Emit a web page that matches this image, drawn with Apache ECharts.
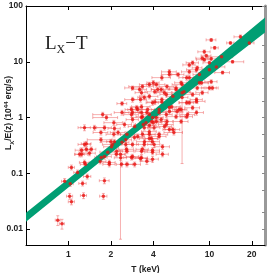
<!DOCTYPE html>
<html><head><meta charset="utf-8">
<script src="https://cdn.jsdelivr.net/npm/echarts@6/dist/echarts.min.js"></script>
<style>html,body{margin:0;padding:0;background:#fff}#c{width:274px;height:273px}</style>
</head><body><div id="c"></div>
<script>
// axis ticks
const xTicks = [1, 2, 4, 10, 20];
const yTicks = [0.01, 0.1, 1, 10, 100];
const yMinorTicks = [0.01, 0.02, 0.05, 0.1, 0.2, 0.5, 1, 2, 5, 10, 20, 50, 100];

// clusters: [T (keV), Lx/E(z) (1e44 erg/s), fractional T error, fractional L error]
const upperRight = [
  [10.3,24.7,0.08,0.06],[16.6,28,0.1,0.08],[19.2,21.8,0.08,0.06],[14.1,21.8,0.06,0.05],
  [10.9,17.8,0.06,0.06],[9.2,15.1,0.1,0.08],[9.5,12.8,0.08,0.06],[12.2,12.3,0.2,0.05],
  [10.3,11.3,0.12,0.06],[8.9,11.6,0.1,0.08],[14.6,10,0.2,0.05],[7.6,9.6,0.1,0.08],
  [11.2,8.1,0.15,0.06],[8.2,7.8,0.08,0.08],[10,7.2,0.1,0.06],[7.2,6.6,0.12,0.08],
  [12.4,6.4,0.12,0.06],[8.5,5.9,0.1,0.08],[6.9,5.2,0.12,0.1],[10.3,4.4,0.1,0.08],
  [8.8,4.2,0.12,0.08],[10.5,3.4,0.1,0.08],[6.4,3.9,0.15,0.1],[10.0,9.6,0.1,0.06],
  [7.2,8.8,0.1,0.08],[8.1,2.1,0.1,0.08],[9.2,10.9,0.12,0.06],[8.1,7.2,0.15,0.08],
  [8.5,4.2,0.15,0.08],[10,3.4,0.12,0.08],[7.2,1.85,0.15,0.08],[7.0,1.13,0.12,0.1]
];
const middle = [
  [5.2,6.6,0.12,0.1],[4.6,5.2,0.15,0.1],[6.3,4.2,0.1,0.08],[7.2,5.2,0.1,0.1],
  [8.2,3.4,0.12,0.08],[4.2,3.9,0.15,0.1],[5.0,3.6,0.12,0.08],[5.8,3.4,0.1,0.1],
  [6.6,2.9,0.1,0.08],[7.6,2.6,0.12,0.08],[8.9,2.8,0.1,0.08],[4.8,2.8,0.12,0.1],
  [4.1,2.9,0.15,0.08],[5.5,2.4,0.1,0.08],[4.6,1.9,0.1,0.1],[6.9,1.85,0.12,0.08],
  [8.1,1.95,0.15,0.08],[4.1,1.9,0.12,0.1],[5.4,1.57,0.15,0.08],[6.3,1.39,0.1,0.1],
  [7.6,1.5,0.12,0.08],[4.4,1.39,0.12,0.1],[4.95,1.13,0.1,0.1],[5.8,1.04,0.15,0.08],
  [6.9,1.04,0.1,0.08],[4.2,1.0,0.12,0.1],[5.0,0.85,0.1,0.1],[6.3,0.85,0.12,0.08],
  [3.9,0.85,0.12,0.1],[6.0,5.9,0.1,0.08],[4.55,3.2,0.15,0.08],[4.0,4.2,0.1,0.1],
  [3.75,2.4,0.15,0.1],[3.2,3.2,0.12,0.1],[3.25,2.1,0.1,0.1],[4.4,1.23,0.12,0.1],
  [3.6,1.23,0.12,0.1],[3.3,1.57,0.15,0.1],[3.75,0.72,0.1,0.1],[4.8,0.69,0.12,0.1],
  [5.2,0.61,0.1,0.1],[3.4,0.75,0.12,0.1],[5.6,0.54,0.15,0.1],[3.35,3.6,0.2,0.08],
  [2.85,2.1,0.12,0.1],[3.05,1.5,0.1,0.1],[2.85,1.23,0.12,0.1],[3.35,1.04,0.1,0.1],
  [3.45,2.3,0.1,0.1],[3.95,1.85,0.1,0.1],[3.65,1.4,0.12,0.1],[5.2,1.28,0.1,0.1],
  [6.1,1.39,0.1,0.1],[8.1,1.23,0.12,0.1],[4.3,3.2,0.1,0.1],[4.95,2.6,0.1,0.1],
  [3.3,2.8,0.1,0.1],[2.85,3.4,0.12,0.08],[2.4,1.78,0.08,0.08],[4.6,2.1,0.1,0.1],
  [3.95,1.0,0.1,0.1],[4.55,0.92,0.1,0.1],[5.2,1.51,0.12,0.1],[4.0,0.81,0.15,0.1],
  [3.1,1.39,0.15,0.1],[2.8,1.13,0.12,0.1],[3.3,1.0,0.15,0.1],[5.8,3.2,0.12,0.08],
  [6.4,2.8,0.15,0.08],[5.2,5.9,0.12,0.1],[3.75,3.9,0.15,0.1],[3.3,1.23,0.1,0.1],
  [4.2,0.85,0.15,0.1],[5.5,0.61,0.12,0.1]
];
const lowerMiddle = [
  [1.86,1.0,0.2,0.1],[2.1,0.81,0.15,0.1],[2.5,0.75,0.12,0.1],[2.95,0.69,0.1,0.1],
  [3.45,0.66,0.12,0.1],[4.05,0.66,0.1,0.1],[2.25,0.54,0.12,0.1],[2.6,0.5,0.1,0.1],
  [3.1,0.46,0.12,0.1],[3.75,0.5,0.1,0.1],[4.4,0.46,0.12,0.1],[1.7,0.4,0.2,0.1],
  [2.0,0.37,0.15,0.1],[2.4,0.36,0.12,0.1],[2.85,0.33,0.1,0.1],[3.45,0.33,0.12,0.1],
  [4.05,0.33,0.1,0.12],[4.65,0.3,0.12,0.1],[2.2,0.25,0.1,0.1],[2.6,0.25,0.12,0.1],
  [3.3,0.25,0.1,0.12],[3.95,0.24,0.12,0.1],[4.65,0.22,0.1,0.1],[1.8,0.2,0.12,0.1],
  [2.35,0.19,0.1,0.1],[2.85,0.2,0.1,0.1],[3.6,0.165,0.1,0.12],[2.6,0.145,0.1,0.1],
  [2.95,0.145,0.1,0.1],[1.95,0.157,0.1,0.1],[3.75,1.13,0.1,0.1],[5.9,1.28,0.1,0.1],
  [3.55,0.81,0.1,0.1],[4.95,0.75,0.12,0.1],[3.35,0.5,0.12,0.1],[3.95,0.37,0.12,0.1],
  [3.35,0.27,0.1,0.1],[3.3,0.19,0.1,0.12],[3.75,0.42,0.15,0.1],[3.95,0.18,0.1,0.12],
  [1.75,1.13,0.15,0.1],[2.4,1.23,0.12,0.1],[2.8,1.39,0.1,0.1],[1.53,0.66,0.2,0.1],
  [1.8,0.66,0.12,0.1],[2.12,0.64,0.1,0.1],[2.85,0.92,0.1,0.1],[1.7,0.54,0.12,0.1],
  [2.58,0.27,0.12,0.1],[2.05,0.33,0.15,0.1],[2.8,0.193,0.12,0.1],[2.94,0.44,0.15,0.1],
  [2.02,0.3,0.12,0.1],[2.12,0.37,0.12,0.1],[2.19,0.22,0.15,0.1],[3.75,0.56,0.12,0.1],
  [4.4,0.5,0.15,0.1],[3.46,0.37,0.12,0.1],[3.95,0.26,0.12,0.1],[3.88,0.42,0.1,0.1],
  [3.24,0.185,0.12,0.1]
];
const lowerLeft = [
  [1.3,0.66,0.1,0.12],[1.3,0.33,0.1,0.1],[1.45,0.27,0.08,0.1],[1.24,0.22,0.1,0.1],
  [1.3,0.157,0.08,0.1],[1.05,0.128,0.05,0.1],[1.9,0.24,0.12,0.1],[2.1,0.5,0.12,0.1],
  [2.55,0.33,0.1,0.1],[1.16,0.104,0.06,0.1],[0.94,0.072,0.05,0.12],[1.26,0.066,0.06,0.1],
  [1.8,0.074,0.08,0.12],[1.68,0.164,0.1,0.1],[1.77,0.039,0.06,0.12],[2.38,0.145,0.08,0.1],
  [2.55,0.4,0.1,0.1],[1.36,0.088,0.06,0.1],[1.02,0.039,0.05,0.12],[1.05,0.031,0.05,0.12],
  [1.28,0.04,0.05,0.12],[0.84,0.0145,0.04,0.2],[0.9,0.0125,0.04,0.2],[1.03,0.065,0.05,0.1],
  [1.71,0.193,0.1,0.1],[1.95,0.145,0.1,0.1],[1.34,0.27,0.1,0.1],[1.41,0.23,0.1,0.1],
  [1.32,0.145,0.08,0.1],[1.2,0.22,0.08,0.1],[1.24,0.26,0.1,0.1],[1.34,0.34,0.08,0.1]
];
// points with long asymmetric L errors: [T, L, fractional T error, L low, L high]
const longBars = [[2.34,0.22,0.08,0.0066,0.26],[6.4,2.3,0.1,0.15,2.6]];

// best-fit band: T and lower / upper L edges
const bandT = [0.5, 3, 24.8];
const bandLow = [0.0136, 0.53, 33.6];
const bandHigh = [0.0197, 0.735, 62];

const allPts = upperRight.concat(middle, lowerMiddle, lowerLeft);
const errData = allPts.map(p => [p[0], p[1], p[0]*(1-p[2]), p[0]*(1+p[2]), p[1]*(1-p[3]), p[1]*(1+p[3])])
  .concat(longBars.map(p => [p[0], p[1], p[0]*(1-p[2]), p[0]*(1+p[2]), p[3], p[4]]));
const ptData = errData.map(p => [p[0], p[1]]);

const chart = echarts.init(document.getElementById('c'), null, {renderer: 'canvas'});
const FONT = "'Liberation Sans Narrow','Liberation Sans',sans-serif";
const lblFont = {fontFamily: FONT, fontSize: 8.5, fontWeight: 'bold', color: '#222'};
const xBase = {
  type: 'log', min: 0.5, max: 24.8,
  axisLine: {show: true, lineStyle: {color: '#000', width: 1}},
  axisTick: {show: true, inside: true, length: 4, customValues: xTicks, lineStyle: {color: '#000'}},
  splitLine: {show: false}
};
const yBase = {
  type: 'log', min: 0.0052, max: 100,
  splitLine: {show: false}
};
chart.setOption({
  animation: false,
  grid: {left: 26, right: 9, top: 6, bottom: 28, containLabel: false, outerBoundsMode: 'none'},
  xAxis: [
    Object.assign({}, xBase, {position: 'bottom',
      axisLabel: Object.assign({customValues: xTicks, margin: 5}, lblFont),
      name: 'T (keV)', nameLocation: 'middle', nameGap: 20, nameMoveOverlap: false, nameTextStyle: lblFont}),
    Object.assign({}, xBase, {position: 'top', axisLabel: {show: false}})
  ],
  yAxis: [
    Object.assign({}, yBase, {position: 'left',
      axisLine: {show: true, lineStyle: {color: '#000', width: 1}},
      axisTick: {show: true, inside: true, length: 4, customValues: yTicks, lineStyle: {color: '#000'}},
      axisLabel: Object.assign({customValues: yTicks, margin: 3}, lblFont),
      name: '{a|L}{s|X}{a|/E(z) (10}{p|44}{a| erg/s)}',
      nameLocation: 'middle', nameRotate: 90, nameGap: 11, nameMoveOverlap: false,
      nameTextStyle: {padding: [0, 0, 0, 25], rich: {
        a: {fontFamily: FONT, fontSize: 8.5, fontWeight: 'bold', color: '#222', lineHeight: 12},
        s: {fontFamily: FONT, fontSize: 6, fontWeight: 'bold', color: '#222', verticalAlign: 'bottom', lineHeight: 6},
        p: {fontFamily: FONT, fontSize: 6, fontWeight: 'bold', color: '#222', verticalAlign: 'top', lineHeight: 6}
      }}}),
    Object.assign({}, yBase, {position: 'right',
      axisLine: {show: true, lineStyle: {color: '#999', width: 3}},
      axisTick: {show: true, inside: true, length: 3, customValues: yMinorTicks, lineStyle: {color: '#888'}},
      axisLabel: {show: false}})
  ],
  graphic: [
    {type: 'text', left: 45, top: 35, z: 100, style: {
      text: '{a|L}{s|X}{a|\u2212T}', rich: {
        a: {fontFamily: "'Liberation Serif',serif", fontSize: 19, fill: '#222', lineHeight: 22},
        s: {fontFamily: "'Liberation Serif',serif", fontSize: 12, fill: '#222', verticalAlign: 'bottom', lineHeight: 11}
      }}}
  ],
  series: [
    {
      type: 'custom', name: 'errors', clip: true, z: 2,
      encode: {x: [0, 2, 3], y: [1, 4, 5]},
      data: errData,
      renderItem: function (params, api) {
        const T = api.value(0), L = api.value(1);
        const c = api.coord([T, L]);
        const a = api.coord([api.value(2), L]), b = api.coord([api.value(3), L]);
        const d = api.coord([T, api.value(4)]), e = api.coord([T, api.value(5)]);
        const st = {stroke: 'rgba(236,80,80,0.45)', lineWidth: 1};
        const cap = 1.5;
        return {type: 'group', children: [
          {type: 'line', shape: {x1: a[0], y1: c[1], x2: b[0], y2: c[1]}, style: st},
          {type: 'line', shape: {x1: c[0], y1: d[1], x2: c[0], y2: e[1]}, style: st},
          {type: 'line', shape: {x1: a[0], y1: c[1]-cap, x2: a[0], y2: c[1]+cap}, style: st},
          {type: 'line', shape: {x1: b[0], y1: c[1]-cap, x2: b[0], y2: c[1]+cap}, style: st},
          {type: 'line', shape: {x1: c[0]-cap, y1: d[1], x2: c[0]+cap, y2: d[1]}, style: st},
          {type: 'line', shape: {x1: c[0]-cap, y1: e[1], x2: c[0]+cap, y2: e[1]}, style: st}
        ]};
      }
    },
    {
      type: 'custom', name: 'fit', clip: true, z: 3,
      data: [[bandT[0], bandLow[0]]],
      renderItem: function (params, api) {
        const pts = [];
        for (let i = 0; i < bandT.length; i++) pts.push(api.coord([bandT[i], bandHigh[i]]));
        for (let i = bandT.length - 1; i >= 0; i--) pts.push(api.coord([bandT[i], bandLow[i]]));
        return {type: 'polygon', shape: {points: pts}, style: {fill: '#009e73'}};
      }
    },
    {
      type: 'scatter', name: 'clusters', z: 4, symbol: 'circle', symbolSize: 3.5,
      itemStyle: {color: '#e8120f'}, data: ptData
    }
  ]
});
</script></body></html>
